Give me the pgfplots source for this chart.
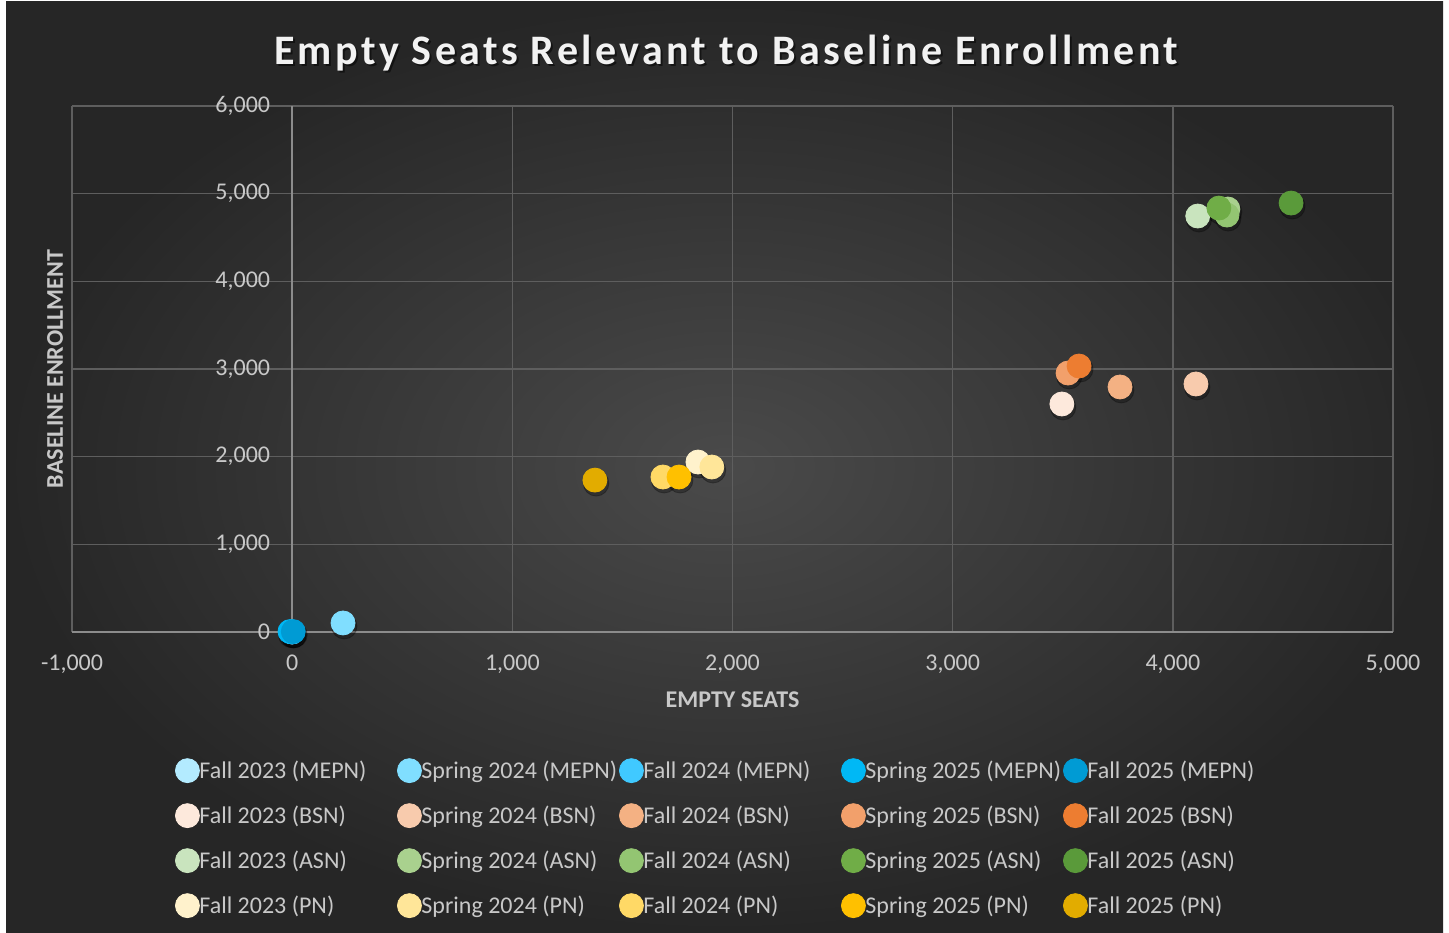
\documentclass[border=0pt]{standalone}
\usepackage{fontspec}
\setmainfont{Carlito}
\usepackage{pgfplots}
\pgfplotsset{compat=1.18}

% series colours
\definecolor{mepnA}{HTML}{B3EBFF}
\definecolor{mepnB}{HTML}{80DEFF}
\definecolor{mepnC}{HTML}{40C9FF}
\definecolor{mepnD}{HTML}{00B8F5}
\definecolor{mepnE}{HTML}{009BD4}
\definecolor{bsnA}{HTML}{FDE9DC}
\definecolor{bsnB}{HTML}{F8CBAD}
\definecolor{bsnC}{HTML}{F4B183}
\definecolor{bsnD}{HTML}{F2A06B}
\definecolor{bsnE}{HTML}{ED7D31}
\definecolor{asnA}{HTML}{C9E4BE}
\definecolor{asnB}{HTML}{A9D18E}
\definecolor{asnC}{HTML}{93C572}
\definecolor{asnD}{HTML}{70AD47}
\definecolor{asnE}{HTML}{5A9A3A}
\definecolor{pnA}{HTML}{FFF2CC}
\definecolor{pnB}{HTML}{FFE699}
\definecolor{pnC}{HTML}{FFD966}
\definecolor{pnD}{HTML}{FFC000}
\definecolor{pnE}{HTML}{E2AC00}

\definecolor{labelgray}{HTML}{C8C8C8}
\definecolor{gridgray}{HTML}{5E5E5E}
\definecolor{axisgray}{HTML}{8C8C8C}

\newcommand{\entry}[1]{\addlegendentry{\makebox[99pt][l]{#1}}}

\begin{document}
\begin{tikzpicture}
  % background
  \fill[white] (0pt,0pt) rectangle (724.5pt,466pt);
  \shade[inner color={rgb,255:red,74;green,74;blue,74},
         outer color={rgb,255:red,38;green,38;blue,38}]
        (3pt,0pt) rectangle (721.5pt,465pt);

  % title with a soft shadow
  \node[text=black, opacity=0.5, font=\bfseries\fontsize{21}{25}\selectfont\addfontfeature{LetterSpace=8}]
    at (364pt,438.5pt) {Empty Seats Relevant to Baseline Enrollment};
  \node[text={rgb,255:red,242;green,242;blue,242}, font=\bfseries\fontsize{21}{25}\selectfont\addfontfeature{LetterSpace=8}]
    at (363pt,439.5pt) {Empty Seats Relevant to Baseline Enrollment};

  \begin{axis}[
      at={(36pt,150pt)}, anchor=south west,
      scale only axis, width=660.5pt, height=263pt,
      xmin=-1000, xmax=5000,
      ymin=0, ymax=6000,
      enlargelimits=false,
      clip=false,
      axis lines=middle,
      axis line style={-, draw=axisgray, line width=1pt},
      hide obscured x ticks=false, hide obscured y ticks=false,
      xtick={-1000,0,...,5000},
      ytick={0,1000,...,6000},
      major tick length=0pt,
      grid=major,
      grid style={draw=gridgray, line width=0.75pt},
      tick label style={font=\fontsize{12}{14}\selectfont, text=labelgray},
      /pgf/number format/1000 sep={,},
      /pgf/number format/assume math mode=true,
      xticklabel style={yshift=-8pt},
      yticklabel style={xshift=-7.5pt},
      xlabel={EMPTY SEATS},
      ylabel={BASELINE ENROLLMENT},
      xlabel style={at={(axis description cs:0.5,-0.1293)}, anchor=center,
                    font=\bfseries\fontsize{12}{14}\selectfont, text=labelgray},
      ylabel style={at={(axis description cs:-0.0129,0.5)}, anchor=center, rotate=90,
                    font=\bfseries\fontsize{12}{14}\selectfont, text=labelgray},
      legend columns=5,
      legend style={at={(0.078,-0.24)}, anchor=north west,
                    draw=none, fill=none, text=labelgray,
                    font=\fontsize{12}{14}\selectfont,
                    inner sep=0pt, column sep=0pt, row sep=10.5pt,
                    nodes={inner sep=0pt}},
      legend image code/.code={\draw[#1] plot coordinates {(6pt,0.4pt)};},
      every axis plot/.append style={only marks, mark=*, mark size=6pt},
    ]

    % marker shadows
    \addplot[forget plot, color=black, opacity=0.28, mark size=6.4pt, yshift=-1.6pt, xshift=0.6pt]
      coordinates {(0,0) (231,103) (0,0) (-10,5) (5,5)
                   (3496,2601) (4105,2829) (3760,2795) (3524,2954) (3574,3034)
                   (4113,4745) (4250,4825) (4246,4756) (4209,4836) (4537,4893)
                   (1843,1939) (1906,1882) (1684,1768) (1757,1768) (1375,1733)};

    % MEPN
    \addplot[color=mepnA] coordinates {(0,0)};         \entry{Fall 2023 (MEPN)}
    \addplot[color=mepnB] coordinates {(231,103)};     \entry{Spring 2024 (MEPN)}
    \addplot[color=mepnC] coordinates {(0,0)};         \entry{Fall 2024 (MEPN)}
    \addplot[color=mepnD] coordinates {(-10,5)};       \entry{Spring 2025 (MEPN)}
    \addplot[color=mepnE] coordinates {(5,5)};         \entry{Fall 2025 (MEPN)}
    % BSN
    \addplot[color=bsnA] coordinates {(3496,2601)};    \entry{Fall 2023 (BSN)}
    \addplot[color=bsnB] coordinates {(4105,2829)};    \entry{Spring 2024 (BSN)}
    \addplot[color=bsnC] coordinates {(3760,2795)};    \entry{Fall 2024 (BSN)}
    \addplot[color=bsnD] coordinates {(3524,2954)};    \entry{Spring 2025 (BSN)}
    \addplot[color=bsnE] coordinates {(3574,3034)};    \entry{Fall 2025 (BSN)}
    % ASN
    \addplot[color=asnA] coordinates {(4113,4745)};    \entry{Fall 2023 (ASN)}
    \addplot[color=asnB] coordinates {(4250,4825)};    \entry{Spring 2024 (ASN)}
    \addplot[color=asnC] coordinates {(4246,4756)};    \entry{Fall 2024 (ASN)}
    \addplot[color=asnD] coordinates {(4209,4836)};    \entry{Spring 2025 (ASN)}
    \addplot[color=asnE] coordinates {(4537,4893)};    \entry{Fall 2025 (ASN)}
    % PN
    \addplot[color=pnA] coordinates {(1843,1939)};     \entry{Fall 2023 (PN)}
    \addplot[color=pnB] coordinates {(1906,1882)};     \entry{Spring 2024 (PN)}
    \addplot[color=pnC] coordinates {(1684,1768)};     \entry{Fall 2024 (PN)}
    \addplot[color=pnD] coordinates {(1757,1768)};     \entry{Spring 2025 (PN)}
    \addplot[color=pnE] coordinates {(1375,1733)};     \entry{Fall 2025 (PN)}
  \end{axis}

  \pgfresetboundingbox
  \useasboundingbox (0pt,0pt) rectangle (724.5pt,466pt);
\end{tikzpicture}
\end{document}
